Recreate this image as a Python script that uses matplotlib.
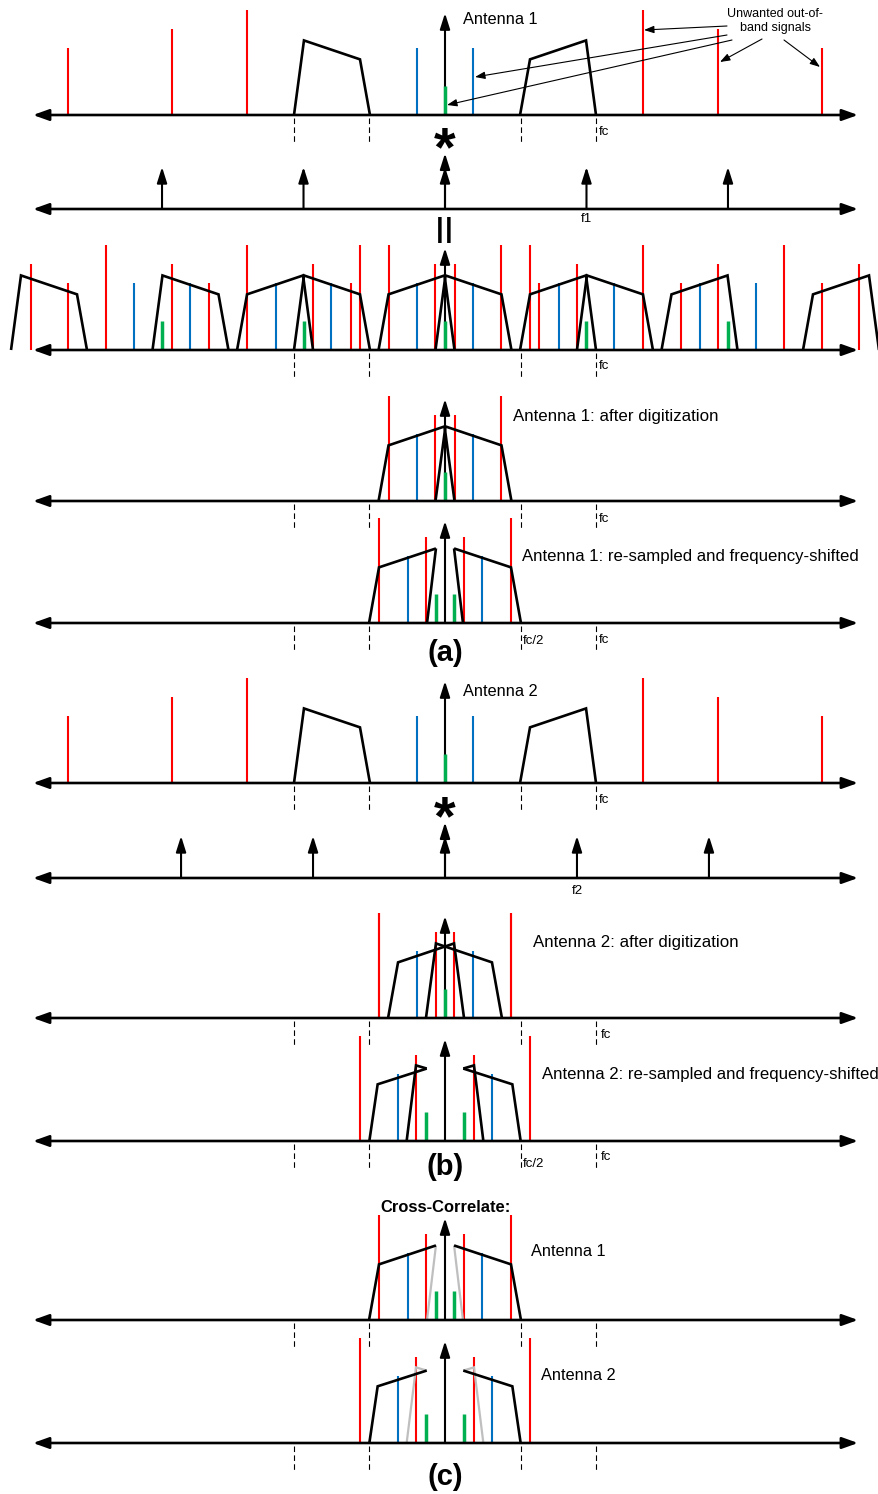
import matplotlib
matplotlib.use("Agg")
import matplotlib.pyplot as plt
import numpy as np

plt.rcParams['font.family'] = ['Liberation Sans', 'DejaVu Sans']

# ---------------- data ----------------
# frequencies in units of fc, amplitudes relative to the strongest tone
RED_F = np.array([-2.497, -1.808, -1.311, 1.311, 1.808, 2.497])
RED_A = np.array([0.64, 0.82, 1.00, 1.00, 0.82, 0.64])
BLUE_F = np.array([-0.185, 0.185])
BLUE_A = np.array([0.64, 0.64])
GREEN_F = np.array([0.0])
GREEN_A = np.array([0.28])
BAND_POS_F = np.array([0.497, 0.563, 0.934, 1.0])
BAND_POS_A = np.array([0.0, 0.53, 0.71, 0.0])
BAND_NEG_F = np.array([-1.0, -0.934, -0.563, -0.497])
BAND_NEG_A = np.array([0.0, 0.71, 0.53, 0.0])

F1 = 0.937          # sampling frequency, antenna 1
F2 = 0.874          # sampling frequency, antenna 2
COMB_ORDERS = [-2, -1, 0, 1, 2]
COMB_A = 0.40
COMB_AXIS_A = 0.53
AXIS_A = 0.97
NYQ = 0.5
DASH_F = [-1.0, -0.5, 0.5, 1.0]

# antenna 1: re-sampled and frequency-shifted
SH1_RED_F = [-0.437, -0.126, 0.126, 0.437]
SH1_RED_A = [1.00, 0.82, 0.82, 1.00]
SH1_BLUE_F = [-0.248, 0.248]
SH1_BLUE_A = [0.64, 0.64]
SH1_GREEN_F = [-0.06, 0.06]
SH1_GREEN_A = [0.28, 0.28]
SH1_OUTER = [([-0.503, -0.437, -0.06], [0.0, 0.53, 0.71]),
             ([0.06, 0.437, 0.503], [0.71, 0.53, 0.0])]
SH1_INNER = [([-0.119, -0.06], [0.0, 0.71]),
             ([0.06, 0.119], [0.71, 0.0])]

# antenna 2: re-sampled and frequency-shifted
SH2_RED_F = [-0.563, -0.189, 0.189, 0.563]
SH2_RED_A = [1.00, 0.82, 0.82, 1.00]
SH2_BLUE_F = [-0.311, 0.311]
SH2_BLUE_A = [0.64, 0.64]
SH2_GREEN_F = [-0.126, 0.126]
SH2_GREEN_A = [0.28, 0.28]
SH2_OUTER = [([-0.501, -0.446, -0.121], [0.0, 0.54, 0.69]),
             ([0.121, 0.446, 0.501], [0.69, 0.54, 0.0])]
SH2_INNER = [([-0.254, -0.192, -0.121], [0.0, 0.72, 0.69]),
             ([0.121, 0.192, 0.254], [0.69, 0.72, 0.0])]

# ---------------- style / layout ----------------
C_RED, C_BLUE, C_GREEN, C_GREY = '#FF0000', '#0070C0', '#00B050', '#BFBFBF'
W, H = 879, 1494
CX, FC_PX, AMP_PX = 445, 151, 105
BASE = dict(a1=115, comb1=209, conv1=350, dig1=501, sh1=623,
            a2=783, comb2=878, dig2=1018, sh2=1141, xc1=1320, xc2=1443)


def fx(px):
    return (px - CX) / FC_PX


AX_LO, AX_HI = fx(33), fx(858)

fig = plt.figure(figsize=(W / 100, H / 100), dpi=100)
ax = fig.add_axes([0, 0, 1, 1])
ax.set_xlim(fx(0), fx(W))
ax.set_ylim(H, 0)
ax.axis('off')


def yv(base, a):
    return base - np.asarray(a, dtype=float) * AMP_PX


def axis_line(base):
    ax.annotate("", xy=(AX_HI, base), xytext=(AX_LO, base),
                arrowprops=dict(arrowstyle="<|-|>,head_length=0.95,head_width=0.34",
                                mutation_scale=10, lw=1.9, color='k',
                                shrinkA=0, shrinkB=0), zorder=5)


def up_arrow(f, base, a, lw=1.5):
    ax.annotate("", xy=(f, yv(base, a)), xytext=(f, base),
                arrowprops=dict(arrowstyle="-|>,head_length=0.95,head_width=0.3",
                                mutation_scale=10, lw=lw, color='k',
                                shrinkA=0, shrinkB=0), zorder=2)


def tones(f, a, base, color, lw=1.5):
    f = np.asarray(f, dtype=float)
    if f.size:
        ax.vlines(f, base, yv(base, a), colors=color, lw=lw, zorder=3)


def band(f, a, base, color='k', lw=1.9):
    ax.plot(f, yv(base, a), color=color, lw=lw, zorder=4,
            solid_joinstyle='miter', solid_capstyle='butt')


def ticks(base):
    ax.vlines(DASH_F, base + 3, base + 28, colors='k', lw=0.8,
              linestyles=[(0, (5, 3))], zorder=1)


def label(px, py, s, size=9.5, **kw):
    ax.text(fx(px), py, s, fontsize=size, va='center', **kw)


def convolve(spacing):
    red_f, red_a, blue_f, blue_a, green_f, green_a, bands = [], [], [], [], [], [], []
    for k in COMB_ORDERS:
        s = k * spacing
        red_f.append(RED_F + s); red_a.append(RED_A)
        blue_f.append(BLUE_F + s); blue_a.append(BLUE_A)
        green_f.append(GREEN_F + s); green_a.append(GREEN_A)
        bands.append((BAND_POS_F + s, BAND_POS_A))
        bands.append((BAND_NEG_F + s, BAND_NEG_A))
    return dict(red=(np.concatenate(red_f), np.concatenate(red_a)),
                blue=(np.concatenate(blue_f), np.concatenate(blue_a)),
                green=(np.concatenate(green_f), np.concatenate(green_a)),
                bands=bands)


def digitize(spec):
    out = {}
    for key in ('red', 'blue', 'green'):
        f, a = spec[key]
        m = np.abs(f) <= NYQ + 1e-9
        out[key] = (f[m], a[m])
    out['bands'] = [(f, a) for f, a in spec['bands'] if np.all(np.abs(f) <= NYQ + 1e-9)]
    return out


def draw_spec(spec, base):
    up_arrow(0.0, base, AXIS_A)
    tones(*spec['red'], base, C_RED)
    tones(*spec['blue'], base, C_BLUE)
    tones(*spec['green'], base, C_GREEN, lw=2.5)
    for f, a in spec['bands']:
        band(f, a, base)
    axis_line(base)


def draw_shifted(base, red_f, red_a, blue_f, blue_a, green_f, green_a, outer, inner,
                 inner_color='k'):
    up_arrow(0.0, base, AXIS_A)
    tones(red_f, red_a, base, C_RED)
    tones(blue_f, blue_a, base, C_BLUE)
    tones(green_f, green_a, base, C_GREEN, lw=2.5)
    for f, a in inner:
        band(f, a, base, color=inner_color, lw=1.6 if inner_color != 'k' else 1.9)
    for f, a in outer:
        band(f, a, base)
    axis_line(base)


def draw_comb(spacing, base):
    up_arrow(0.0, base, COMB_AXIS_A)
    for k in COMB_ORDERS:
        up_arrow(k * spacing, base, COMB_A)
    axis_line(base)


base_spec = dict(red=(RED_F, RED_A), blue=(BLUE_F, BLUE_A), green=(GREEN_F, GREEN_A),
                 bands=[(BAND_NEG_F, BAND_NEG_A), (BAND_POS_F, BAND_POS_A)])

# ---------------- (a) antenna 1 ----------------
draw_spec(base_spec, BASE['a1']); ticks(BASE['a1'])
label(599, BASE['a1'] + 17, 'fc')
label(463, 20, 'Antenna 1', size=11.8)
ax.text(fx(775), 21, 'Unwanted out-of-\nband signals', fontsize=9, ha='center',
        va='center', multialignment='center', linespacing=1.15)
ann_arrows = [((727, 26), (644, 30)), ((727, 35), (475, 77)), ((732, 40), (447, 105)),
              ((762, 39), (720, 62)), ((784, 40), (820, 67))]
for (sx, sy), (tx, ty) in ann_arrows:
    ax.annotate("", xy=(fx(tx), ty), xytext=(fx(sx), sy),
                arrowprops=dict(arrowstyle="-|>,head_length=0.6,head_width=0.22",
                                mutation_scale=10, lw=0.8, color='k',
                                shrinkA=0, shrinkB=0), zorder=6)

ax.text(fx(445), 165, '*', fontsize=40, fontweight='bold', ha='center', va='baseline')
draw_comb(F1, BASE['comb1'])
ax.text(F1, 219, 'f1', fontsize=9.5, ha='center', va='center')
for bar_px in (439.5, 448.5):
    ax.text(fx(bar_px), 230, '|', fontsize=20, fontweight='bold', ha='center', va='center')

conv1 = convolve(F1)
draw_spec(conv1, BASE['conv1']); ticks(BASE['conv1'])
label(599, BASE['conv1'] + 16, 'fc')

draw_spec(digitize(conv1), BASE['dig1']); ticks(BASE['dig1'])
label(599, BASE['dig1'] + 18, 'fc')
label(513, 416, 'Antenna 1: after digitization', size=12.2)

draw_shifted(BASE['sh1'], SH1_RED_F, SH1_RED_A, SH1_BLUE_F, SH1_BLUE_A,
             SH1_GREEN_F, SH1_GREEN_A, SH1_OUTER, SH1_INNER)
ticks(BASE['sh1'])
label(522, 557, 'Antenna 1: re-sampled and frequency-shifted', size=12.1)
label(523, BASE['sh1'] + 18, 'fc/2')
label(599, BASE['sh1'] + 17, 'fc')
ax.text(fx(445), 653, '(a)', fontsize=21, fontweight='bold', ha='center', va='center')

# ---------------- (b) antenna 2 ----------------
draw_spec(base_spec, BASE['a2']); ticks(BASE['a2'])
label(599, BASE['a2'] + 17, 'fc')
label(463, 691, 'Antenna 2', size=11.8)
ax.text(fx(445), 834, '*', fontsize=40, fontweight='bold', ha='center', va='baseline')
draw_comb(F2, BASE['comb2'])
ax.text(F2, 891, 'f2', fontsize=9.5, ha='center', va='center')

conv2 = convolve(F2)
draw_spec(digitize(conv2), BASE['dig2']); ticks(BASE['dig2'])
label(601, BASE['dig2'] + 17, 'fc')
label(533, 942, 'Antenna 2: after digitization', size=12.2)

draw_shifted(BASE['sh2'], SH2_RED_F, SH2_RED_A, SH2_BLUE_F, SH2_BLUE_A,
             SH2_GREEN_F, SH2_GREEN_A, SH2_OUTER, SH2_INNER)
ticks(BASE['sh2'])
label(542, 1075, 'Antenna 2: re-sampled and frequency-shifted', size=12.1)
label(523, BASE['sh2'] + 23, 'fc/2')
label(601, BASE['sh2'] + 16, 'fc')
ax.text(fx(445), 1167, '(b)', fontsize=21, fontweight='bold', ha='center', va='center')

# ---------------- (c) cross-correlation ----------------
ax.text(fx(446), 1207, 'Cross-Correlate:', fontsize=11.9, fontweight='bold',
        ha='center', va='center')
draw_shifted(BASE['xc1'], SH1_RED_F, SH1_RED_A, SH1_BLUE_F, SH1_BLUE_A,
             SH1_GREEN_F, SH1_GREEN_A, SH1_OUTER, SH1_INNER, inner_color=C_GREY)
ticks(BASE['xc1'])
label(531, 1252, 'Antenna 1', size=11.8)
draw_shifted(BASE['xc2'], SH2_RED_F, SH2_RED_A, SH2_BLUE_F, SH2_BLUE_A,
             SH2_GREEN_F, SH2_GREEN_A, SH2_OUTER, SH2_INNER, inner_color=C_GREY)
ticks(BASE['xc2'])
label(541, 1375, 'Antenna 2', size=11.8)
ax.text(fx(445), 1477, '(c)', fontsize=21, fontweight='bold', ha='center', va='center')

fig.savefig('out.png', dpi=100, facecolor='white')
